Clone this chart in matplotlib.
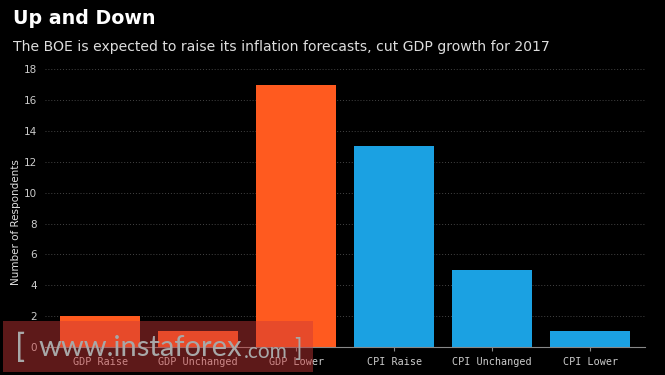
import matplotlib.pyplot as plt
from matplotlib.patches import Rectangle

categories = ["GDP Raise", "GDP Unchanged", "GDP Lower", "CPI Raise", "CPI Unchanged", "CPI Lower"]
respondents = [2, 1, 17, 13, 5, 1]
colors = ["#ff5a1f"] * 3 + ["#1ba1e2"] * 3
yticks = list(range(0, 19, 2))

fig = plt.figure(figsize=(6.65, 3.75), dpi=100, facecolor="black")
ax = fig.add_axes([0.068, 0.075, 0.902, 0.74], facecolor="black")

x = range(len(categories))
ax.bar(x, respondents, width=0.81, color=colors, zorder=2)

ax.set_xlim(-0.56, 5.56)
ax.set_ylim(0, 18)
ax.set_yticks(yticks)
ax.set_xticks(list(x))
ax.set_xticklabels(categories, family="DejaVu Sans Mono", fontsize=7.3)
ax.tick_params(axis="y", length=0, colors="#cccccc", labelsize=7.5, pad=6)
ax.tick_params(axis="x", length=3, color="#888888", colors="#cccccc", pad=4)
ax.grid(axis="y", color="#444444", linestyle=(0, (1, 2)), linewidth=0.7, zorder=0)
for s in ["top", "right", "left"]:
    ax.spines[s].set_visible(False)
ax.spines["bottom"].set_color("#888888")
ax.spines["bottom"].set_linewidth(0.8)
ax.set_ylabel("Number of Respondents", color="#dddddd", fontsize=7.5)
ax.yaxis.set_label_coords(-0.040, 0.45)

fig.text(0.019, 0.952, "Up and Down", color="white", fontsize=13.7, fontweight="bold", va="center")
fig.text(0.019, 0.875, "The BOE is expected to raise its inflation forecasts, cut GDP growth for 2017",
         color="#dddddd", fontsize=10.1, va="center")

# watermark
fig.patches.append(Rectangle((0.005, 0.008), 0.466, 0.136, transform=fig.transFigure,
                             facecolor="#cc3838", alpha=0.46, zorder=5))
fig.text(0.022, 0.072, "[", color="#a8a8a8", fontsize=24, family="Lato",
         va="center", zorder=6)
fig.text(0.058, 0.072, "www.instaforex", color="#a8a8a8", fontsize=21, family="Lato",
         va="center", zorder=6)
fig.text(0.366, 0.062, ".com", color="#a8a8a8", fontsize=15, family="Lato",
         va="center", zorder=6)
fig.text(0.443, 0.072, "]", color="#a8a8a8", fontsize=18, family="Lato",
         va="center", zorder=6)

fig.savefig("out.png", dpi=100, facecolor="black")
